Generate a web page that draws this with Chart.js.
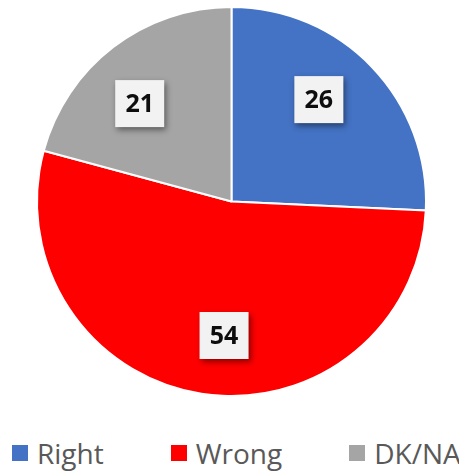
<!DOCTYPE html>
<html>
<head>
<meta charset="utf-8">
<script src="https://cdn.jsdelivr.net/npm/chart.js@4/dist/chart.umd.min.js"></script>
<style>
  html, body { margin: 0; padding: 0; background: #fff; }
  #wrap { width: 459px; height: 472px; position: relative; }
  #chartBox { position: absolute; left: 0; top: 0; width: 459px; height: 410px; }
  #legend {
    position: absolute; left: 12px; top: 434px;
    display: flex; align-items: center; gap: 67px;
    font-family: "Open Sans", sans-serif; font-size: 28px; color: #595959;
  }
  #legend .item { display: flex; align-items: center; }
  #legend .sw { width: 16px; height: 16px; margin-right: 9px; }
</style>
</head>
<body>
<div id="wrap">
  <div id="chartBox"><canvas id="pie"></canvas></div>
  <div id="legend"></div>
</div>
<script>
const categories = ['Right', 'Wrong', 'DK/NA'];
const values = [26, 54, 21];
const colors = ['#4472c4', '#ff0000', '#a5a5a5'];

// white boxes with the numbers, like the original data labels
const boxLabels = {
    id: 'boxLabels',
    afterDatasetsDraw(chart) {
        const ctx = chart.ctx;
        const arcs = chart.getDatasetMeta(0).data;
        arcs.forEach((arc, i) => {
            // labels sit a little before the bisector in the original
            const mid = (arc.startAngle + arc.endAngle) / 2 - 0.1;
            const r = arc.outerRadius * 0.69;
            const x = arc.x + Math.cos(mid) * r;
            const y = arc.y + Math.sin(mid) * r;
            const w = 49, h = 47;
            ctx.save();
            ctx.shadowColor = 'rgba(0,0,0,0.45)';
            ctx.shadowBlur = 6;
            ctx.shadowOffsetX = 2;
            ctx.shadowOffsetY = 3;
            ctx.fillStyle = '#f2f2f2';
            ctx.fillRect(x - w / 2, y - h / 2, w, h);
            ctx.restore();
            ctx.save();
            ctx.fillStyle = '#0d0d0d';
            ctx.font = 'bold 25px "Open Sans", sans-serif';
            ctx.textAlign = 'center';
            ctx.textBaseline = 'middle';
            ctx.fillText(String(values[i]), x, y + 1);
            ctx.restore();
        });
    }
};

const chart = new Chart(document.getElementById('pie'), {
    type: 'pie',
    data: {
        labels: categories,
        datasets: [{
            data: values,
            backgroundColor: colors,
            borderColor: '#ffffff',
            borderWidth: 2
        }]
    },
    options: {
        responsive: true,
        maintainAspectRatio: false,
        animation: false,
        layout: { padding: { left: 36, right: 32, top: 6, bottom: 13 } },
        plugins: {
            tooltip: { enabled: false },
            legend: { display: false }
        }
    },
    plugins: [boxLabels]
});

// legend built from the chart's own labels and colours
const legend = document.getElementById('legend');
chart.data.labels.forEach((label, i) => {
    const item = document.createElement('div');
    item.className = 'item';
    item.innerHTML = `<span class="sw" style="background:${colors[i]}"></span><span>${label}</span>`;
    legend.appendChild(item);
});
</script>
</body>
</html>
